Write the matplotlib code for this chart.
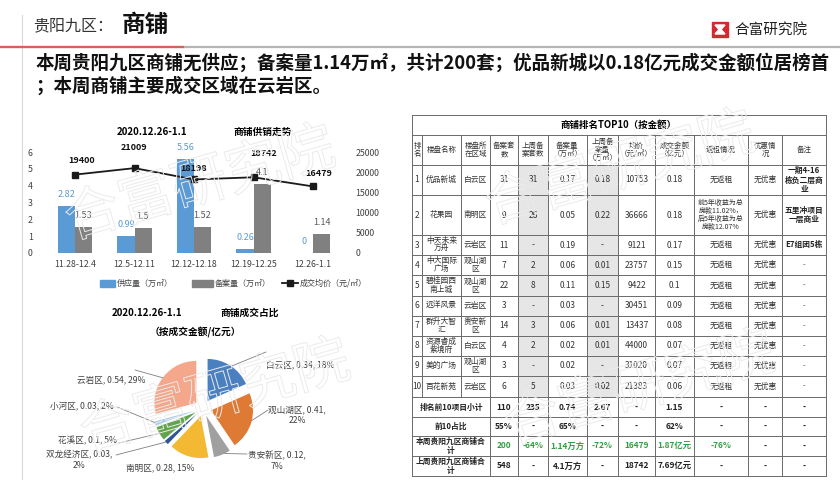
import numpy as np
import matplotlib
matplotlib.use('Agg')
import matplotlib.pyplot as plt
from matplotlib.patches import Rectangle, Polygon
import matplotlib.patheffects as pe

plt.rcParams['font.family'] = ['Noto Sans CJK SC', 'DejaVu Sans']
plt.rcParams['axes.unicode_minus'] = False

# ---- data: supply / filing trend ----
weeks = ['11.28-12.4', '12.5-12.11', '12.12-12.18', '12.19-12.25', '12.26-1.1']
supply = [2.82, 0.99, 5.56, 0.26, 0]          # 万㎡
filed = [1.53, 1.5, 1.52, 4.1, 1.14]          # 万㎡
avg_price = [19400, 21009, 18198, 18742, 16479]  # 元/㎡

# ---- data: deal share by district ----
districts = ['白云区', '观山湖区', '贵安新区', '南明区', '双龙经济区', '花溪区', '小河区', '云岩区']
amounts = [0.34, 0.41, 0.12, 0.28, 0.03, 0.1, 0.03, 0.54]
shares = [18, 22, 7, 15, 2, 5, 2, 29]

# ---- data: top10 table ----
ranks = [1, 2, 3, 4, 5, 6, 7, 8, 9, 10]
projects = ['优品新城', '花果园', '中天未来方舟', '中大国际广场', '碧桂园西南上城',
            '远洋风景', '群升大智汇', '资源睿成紫境府', '美的广场', '百花新苑']
proj_district = ['白云区', '南明区', '云岩区', '观山湖区', '观山湖区',
                 '云岩区', '贵安新区', '白云区', '观山湖区', '云岩区']
units = ['31', '9', '11', '7', '22', '3', '14', '4', '3', '6']
units_last = ['31', '26', '-', '2', '8', '-', '3', '2', '-', '5']
area = ['0.17', '0.05', '0.19', '0.06', '0.11', '0.03', '0.06', '0.02', '0.02', '0.03']
area_last = ['0.18', '0.22', '-', '0.01', '0.15', '-', '0.01', '0.01', '-', '0.02']
price = ['10753', '36666', '9121', '23757', '9422', '30451', '13437', '44000', '31020', '21383']
deal = ['0.18', '0.18', '0.17', '0.15', '0.1', '0.09', '0.08', '0.07', '0.07', '0.06']
leaseback = ['无返租', '前5年收益为总\n房款11.02%，\n后5年收益为总\n房款12.07%'] + ['无返租'] * 8
discount = ['无优惠'] * 10
remarks = ['一期4-16\n栋负二层商\n业', '五里冲项目\n一层商业', 'E7组团5栋'] + ['-'] * 7

headers = ['排\n名', '楼盘名称', '楼盘所\n在区域', '备案套\n数', '上周备\n案套数', '备案量\n（万㎡）',
           '上周备\n案量\n（万㎡）', '均价\n（元/㎡）', '成交金额\n（亿元）', '返租情况', '优惠情\n况', '备注']
summary_names = ['排名前10项目小计', '前10占比', '本周贵阳九区商铺合\n计', '上周贵阳九区商铺合\n计']
summary_vals = [
    ['110', '235', '0.74', '2.67', '-', '1.15', '-', '-', '-'],
    ['55%', '-', '65%', '-', '-', '62%', '-', '-', '-'],
    ['200', '-64%', '1.14万方', '-72%', '16479', '1.87亿元', '-76%', '-', '-'],
    ['548', '-', '4.1万方', '-', '18742', '7.69亿元', '-', '-', '-'],
]

W, H = 840, 480
fig = plt.figure(figsize=(8.4, 4.8), dpi=100)


def px_axes(x0, y0, x1, y1):
    return fig.add_axes([x0 / W, 1 - y1 / H, (x1 - x0) / W, (y1 - y0) / H])


# background overlay in pixel coordinates
ov = px_axes(0, 0, W, H)
ov.set_xlim(0, W)
ov.set_ylim(H, 0)
ov.axis('off')

# page header
ov.plot([22, 22], [15, 480], color='#d9d9d9', lw=0.8)
ov.plot([0, 840], [47, 47], color='#b5b5b5', lw=1.6)
ov.plot([0, 183], [47, 47], color='#d9605a', lw=1.6)
ov.text(33, 26, '贵阳九区：', fontsize=11.5, color='#333333', va='center')
ov.text(122, 25, '商铺', fontsize=17, fontweight='bold', color='#111111', va='center')
ov.add_patch(Rectangle((712, 22), 16, 15, color='#d7282f'))
ov.add_patch(Polygon([(715, 25), (725, 25), (721, 29.5), (725, 34), (715, 34), (719, 29.5)],
                     closed=True, color='white'))
ov.text(734, 30, '合富研究院', fontsize=10.5, color='#222222', va='center')

ov.text(36, 63, '本周贵阳九区商铺无供应；备案量1.14万㎡，共计200套；优品新城以0.18亿元成交金额位居榜首',
        fontsize=13.3, fontweight='bold', va='center', color='#111111')
ov.text(36, 86, '；本周商铺主要成交区域在云岩区。', fontsize=13.3, fontweight='bold',
        va='center', color='#111111')

# ---- combo chart ----
blue = '#5b9bd5'
grey = '#808080'
ax = px_axes(45.25, 152, 342.75, 253)
x = np.arange(len(weeks))
bw = 0.286
ax.bar(x - bw / 2, supply, bw, color=blue)
ax.bar(x + bw / 2, filed, bw, color=grey)
ax.set_xlim(-0.5, 4.5)
ax.set_ylim(0, 6)
ax.set_xticks(x, weeks)
ax.set_yticks(range(0, 7))
ax.tick_params(length=0, labelsize=6.3, colors='#404040')
ax.tick_params(axis='y', pad=9)
ax.tick_params(axis='x', pad=5)
for s in ax.spines.values():
    s.set_visible(False)
for i in range(len(weeks)):
    ax.annotate(f'{supply[i]:g}', (x[i] - bw / 2, supply[i]), xytext=(0, 5),
                textcoords='offset points', ha='center', va='bottom', fontsize=6.5, color=blue)
    ax.annotate(f'{filed[i]:g}', (x[i] + bw / 2, filed[i]), xytext=(0, 5),
                textcoords='offset points', ha='center', va='bottom', fontsize=6.5, color='#595959')

ax2 = ax.twinx()
ax2.plot(x, avg_price, color='#1a1a1a', lw=1.3, marker='s', ms=4.5)
ax2.set_ylim(0, 25000)
ax2.set_yticks(range(0, 25001, 5000))
ax2.tick_params(length=0, labelsize=6.3, colors='#404040', pad=9)
for s in ax2.spines.values():
    s.set_visible(False)
price_offsets = [(5, 10), (0, 15), (0, 8), (7, 17), (4, 9)]
for i in range(len(weeks)):
    ax2.annotate(f'{avg_price[i]}', (x[i], avg_price[i]), xytext=price_offsets[i],
                 textcoords='offset points', ha='center', va='center', fontsize=6.5,
                 fontweight='bold', color='#111111')

ov.text(152, 132, '2020.12.26-1.1', fontsize=7, fontweight='bold', ha='center', va='center')
ov.text(263, 132, '商铺供销走势', fontsize=7, fontweight='bold', ha='center', va='center')

# legend
ov.add_patch(Rectangle((100, 279.5), 15, 7, color=blue))
ov.text(117, 283, '供应量（万㎡）', fontsize=5.8, va='center', color='#404040')
ov.add_patch(Rectangle((192, 279.5), 21, 7, color=grey))
ov.text(215, 283, '备案量（万㎡）', fontsize=5.8, va='center', color='#404040')
ov.plot([282, 298], [283, 283], color='#1a1a1a', lw=1.3)
ov.plot([290], [283], marker='s', ms=4.5, color='#1a1a1a')
ov.text(300, 283, '成交均价（元/㎡）', fontsize=5.8, va='center', color='#404040')

# ---- pie chart ----
pie_colors = ['#4a80c0', '#df7a35', '#a0a0a0', '#f4b932', '#2f5597', '#62a54a', '#aacbea', '#f4a78a']
cx, cy, r, R = 203, 408, 42, 75
axp = px_axes(cx - R, cy - R, cx + R, cy + R)
wedges, _ = axp.pie(amounts, colors=pie_colors, startangle=90, counterclock=False,
                    explode=[0.2] * len(amounts), radius=1)
axp.set_xlim(-R / r, R / r)
axp.set_ylim(-R / r, R / r)
axp.axis('off')

ov.text(147, 313, '2020.12.26-1.1', fontsize=7, fontweight='bold', ha='center', va='center')
ov.text(250, 313, '商铺成交占比', fontsize=7, fontweight='bold', ha='center', va='center')
ov.text(195, 332, '（按成交金额/亿元）', fontsize=7, fontweight='bold', ha='center', va='center')

label_pos = [(300, 365), (297, 415), (277, 461), (160, 468), (79, 460), (88, 441), (82, 407), (111, 380)]
line_end = [(266, 352), (268, 410), (247, 454), None, (116, 455), (119, 443), (117, 407), (135, 370)]
two_line = [False, True, True, False, True, False, False, False]
for i, wdg in enumerate(wedges):
    if two_line[i]:
        lab = f'{districts[i]}, {amounts[i]:g},\n{shares[i]}%'
    else:
        lab = f'{districts[i]}, {amounts[i]:g}, {shares[i]}%'
    ov.text(label_pos[i][0], label_pos[i][1], lab, fontsize=6.2, ha='center', va='center',
            color='#404040', multialignment='center', linespacing=1.3)
    if line_end[i] is not None:
        th = np.deg2rad((wdg.theta1 + wdg.theta2) / 2)
        ex = wdg.center[0] + np.cos(th) * 0.97
        ey = wdg.center[1] + np.sin(th) * 0.97
        ov.annotate('', xy=(ex, ey), xycoords=axp.transData, xytext=line_end[i], textcoords='data',
                    arrowprops=dict(arrowstyle='-', color='#7f7f7f', lw=0.6, shrinkA=0, shrinkB=0))

# ---- table ----
cols = [412, 422, 461, 490, 518, 548, 587, 618, 655, 694, 748, 782, 826]
rows = [115, 135, 165, 195, 235, 255, 275, 296, 316, 336, 356, 376, 397, 417, 436, 456, 476]
green = '#2ea043'
lc = '#6a6a6a'

# shaded "last week" columns
for c in (4, 6):
    ov.add_patch(Rectangle((cols[c], rows[2]), cols[c + 1] - cols[c], rows[12] - rows[2],
                           color='#e6e6e6', lw=0))

for yy in rows:
    ov.plot([cols[0], cols[-1]], [yy, yy], color=lc, lw=0.7)
for ri in range(1, len(rows) - 1):
    for ci, xx in enumerate(cols):
        if ri >= 12 and ci in (1, 2):
            continue
        ov.plot([xx, xx], [rows[ri], rows[ri + 1]], color=lc, lw=0.7)
ov.plot([cols[0], cols[0]], [rows[0], rows[1]], color=lc, lw=0.7)
ov.plot([cols[-1], cols[-1]], [rows[0], rows[1]], color=lc, lw=0.7)

ov.text((cols[0] + cols[-1]) / 2, (rows[0] + rows[1]) / 2, '商铺排名TOP10（按金额）',
        fontsize=6.8, fontweight='bold', ha='center', va='center')


def cell(ci, ri, s, ci2=None, **kw):
    ci2 = ci if ci2 is None else ci2
    xc = (cols[ci] + cols[ci2 + 1]) / 2
    yc = (rows[ri] + rows[ri + 1]) / 2
    opts = dict(fontsize=5.6, ha='center', va='center', linespacing=1.05, color='#333333')
    opts.update(kw)
    ov.text(xc, yc, s, **opts)


def wrap(s, n):
    return '\n'.join(s[k:k + n] for k in range(0, len(s), n))


for ci, h in enumerate(headers):
    cell(ci, 1, h, fontsize=5.4)

for k in range(10):
    ri = k + 2
    vals = [str(ranks[k]), wrap(projects[k], 4), wrap(proj_district[k], 3), units[k], units_last[k],
            area[k], area_last[k], price[k], deal[k], leaseback[k], discount[k], remarks[k]]
    for ci, v in enumerate(vals):
        kw = {}
        if ci == 11 and v != '-':
            kw = dict(fontweight='bold', color='#222222')
        if ci in (0, 3, 4, 5, 6, 7, 8):
            kw['fontsize'] = 6
        if ci == 9 and k == 1:
            kw['fontsize'] = 5
        cell(ci, ri, v, **kw)

for j in range(4):
    ri = 12 + j
    cell(0, ri, summary_names[j], ci2=2, fontweight='bold', color='#222222')
    for m, v in enumerate(summary_vals[j]):
        col = green if (j == 2 and v != '-') else '#222222'
        cell(3 + m, ri, v, fontsize=6, fontweight='bold', color=col)

# watermark
wm = px_axes(0, 0, W, H)
wm.set_xlim(0, W)
wm.set_ylim(H, 0)
wm.axis('off')
wm.patch.set_visible(False)
for (wx, wy, rot) in [(200, 185, 16), (215, 398, 16), (620, 170, 16), (640, 390, 16)]:
    wm.text(wx, wy, '合富研究院', fontsize=40, rotation=rot, ha='center', va='center', color='none',
            path_effects=[pe.Stroke(linewidth=0.7, foreground='#ebebeb')])

fig.savefig('out.png', dpi=100, facecolor='white')
